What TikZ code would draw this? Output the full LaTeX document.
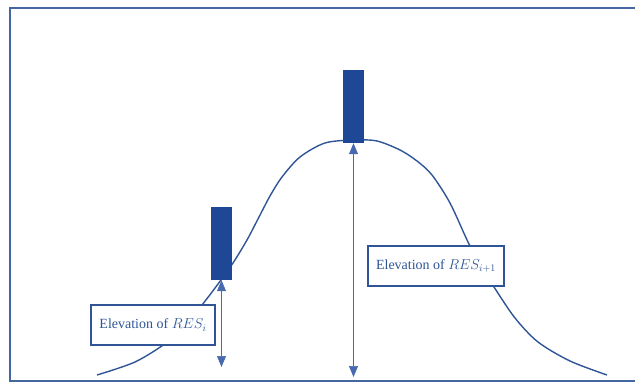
\documentclass[tikz,border=0pt]{standalone}
\usepackage{fontspec}
\setmainfont{Liberation Serif}
\usetikzlibrary{arrows.meta}
\definecolor{resblue}{RGB}{47,85,151}
\definecolor{bardark}{RGB}{30,72,150}
\definecolor{levblue}{RGB}{70,105,175}

\begin{document}
\begin{tikzpicture}[x=1pt,y=-1pt,>={Triangle[width=9pt,length=11pt]},
    font=\fontsize{14}{16}\selectfont,
    res/.style={fill=bardark,draw=none,minimum width=21pt,minimum height=73pt,inner sep=0pt},
    elev/.style={draw=resblue,line width=1.1pt,fill=white,text=resblue,minimum height=40pt,inner sep=0pt},
    level/.style={<->,levblue,line width=0.7pt}]
  \useasboundingbox (0,0) rectangle (635,385);
  % frame, open on the right
  \draw[resblue!90!white,line width=2.4pt] (635,8) -- (10,8) -- (10,381) -- (635,381);
  % terrain profile
  \draw[resblue,line width=1.4pt] plot[smooth,tension=0.5] coordinates {
    (97,375) (135,362) (166,343) (185,325) (202,305) (218,284) (233,263)
    (247,240) (259,217) (270,196) (282,177) (300,157) (325,143) (354,140)
    (377,141) (400,150) (417,161) (432,175) (450,203) (468,242) (481,266)
    (494,287) (515,318) (538,342) (570,361) (607,375)};
  % reservoirs
  \node[res] (resA) at (221.5,243.5) {};
  \node[res] (resB) at (353.5,106.5) {};
  \coordinate (baseA) at (221.5,367);
  \coordinate (baseB) at (353.5,377);
  \draw[level] (resA.south) -- (baseA);
  \draw[level] (resB.south) -- (baseB);
  % labels
  \node[elev,minimum width=124pt] (labA) at (153,325) {Elevation of $RES_i$};
  \node[elev,minimum width=136pt] (labB) at (436,266) {Elevation of $RES_{i+1}$};
\end{tikzpicture}
\end{document}
